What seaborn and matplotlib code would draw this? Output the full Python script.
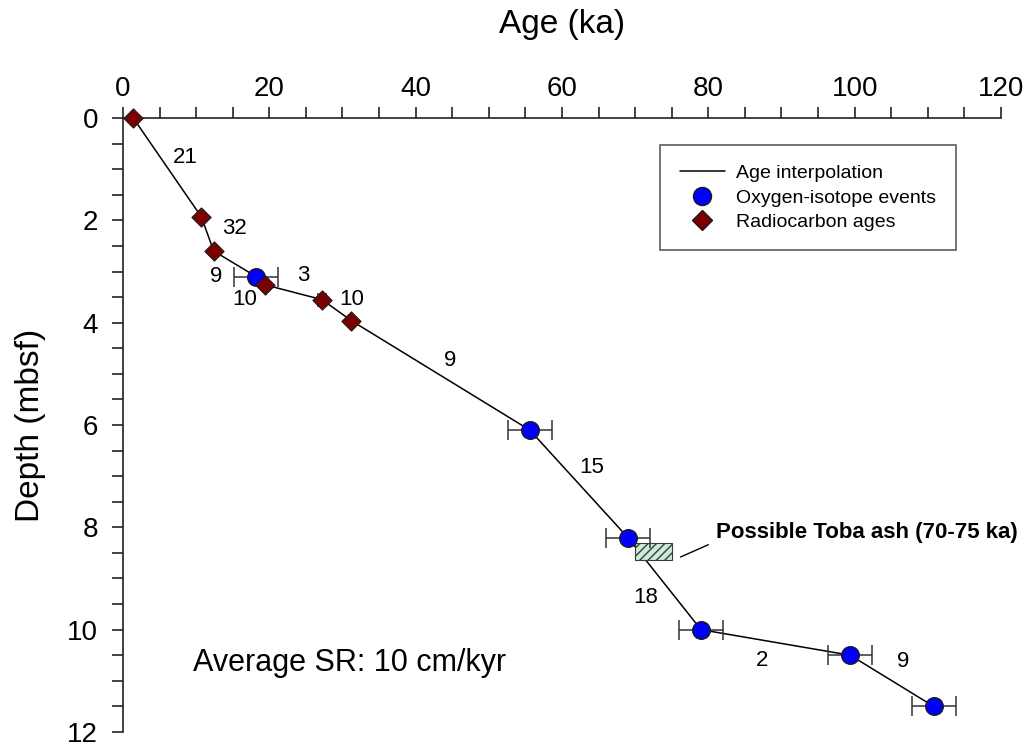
import matplotlib
matplotlib.use("Agg")
import matplotlib.pyplot as plt
from matplotlib.patches import Rectangle
from matplotlib.lines import Line2D
from matplotlib.ticker import MultipleLocator
import seaborn as sns
import pandas as pd

# Age model tie points
radiocarbon_age = [1.4, 10.7, 12.4, 19.4, 27.2, 31.2]
radiocarbon_depth = [0.0, 1.93, 2.6, 3.26, 3.55, 3.96]
radiocarbon_err = [0.3, 0.3, 0.3, 0.3, 0.5, 0.3]

isotope_age = [18.2, 55.6, 69.0, 79.0, 99.4, 110.8]
isotope_depth = [3.1, 6.1, 8.2, 10.0, 10.5, 11.5]
isotope_err = [3.0, 3.0, 3.0, 3.0, 3.0, 3.0]

# Sedimentation-rate labels (cm/kyr) along each segment
sr_labels = ["21", "32", "9", "3", "10", "10", "9", "15", "18", "2", "9"]
sr_age = [8.5, 15.3, 12.7, 24.6, 16.6, 31.3, 44.7, 64.1, 71.4, 87.3, 106.6]
sr_depth = [0.78, 2.15, 3.1, 3.07, 3.55, 3.55, 4.73, 6.84, 9.38, 10.6, 10.62]

toba_age = [70, 75]
toba_depth = [8.3, 8.63]

x_ticks = [0, 20, 40, 60, 80, 100, 120]
y_ticks = [0, 2, 4, 6, 8, 10, 12]

sns.set_style("white")
plt.rcParams["font.family"] = ["Liberation Sans", "DejaVu Sans"]
plt.rcParams["text.color"] = "black"
plt.rcParams["axes.labelcolor"] = "black"
plt.rcParams["xtick.color"] = "black"
plt.rcParams["ytick.color"] = "black"
plt.rcParams["hatch.color"] = "#3c7a5a"

fig = plt.figure(figsize=(10.31, 7.46), dpi=100)
ax = fig.add_axes([0.1193, 0.0188, 0.8516, 0.823])

tie = pd.DataFrame({
    "age": radiocarbon_age + isotope_age,
    "depth": radiocarbon_depth + isotope_depth,
}).sort_values("age")

sns.lineplot(data=tie, x="age", y="depth", sort=False, color="black",
             linewidth=1.1, ax=ax, zorder=2)

# Toba ash interval
ax.add_patch(Rectangle((toba_age[0], toba_depth[0]), toba_age[1] - toba_age[0],
                       toba_depth[1] - toba_depth[0], facecolor="#c8ecd8",
                       edgecolor="#3a3a3a", hatch="////", linewidth=0.8, zorder=2.5))

ax.errorbar(isotope_age, isotope_depth, xerr=isotope_err, fmt="none",
            ecolor="#333333", elinewidth=1.1, capsize=7, capthick=1.1, zorder=3)
ax.errorbar(radiocarbon_age, radiocarbon_depth, xerr=radiocarbon_err, fmt="none",
            ecolor="#333333", elinewidth=1.1, capsize=5, capthick=1.1, zorder=3)

rc = pd.DataFrame({"age": radiocarbon_age, "depth": radiocarbon_depth})
iso = pd.DataFrame({"age": isotope_age, "depth": isotope_depth})
sns.scatterplot(data=iso, x="age", y="depth", marker="o", s=160, color="#0000ff",
                edgecolor="#1a1a1a", linewidth=1.0, ax=ax, zorder=4, clip_on=False)
sns.scatterplot(data=rc, x="age", y="depth", marker="D", s=95, color="#7a0000",
                edgecolor="#1a1a1a", linewidth=0.8, ax=ax, zorder=5, clip_on=False)

for lab, xa, yd in zip(sr_labels, sr_age, sr_depth):
    ax.text(xa, yd, lab, fontsize=16, ha="center", va="center", zorder=6)

ax.plot([76.2, 80.0], [8.58, 8.34], color="black", linewidth=1.0)
ax.text(81.0, 8.1, "Possible Toba ash (70-75 ka)", fontsize=16, fontweight="bold",
        ha="left", va="center")

ax.text(9.6, 10.65, "Average SR: 10 cm/kyr", fontsize=22, ha="left", va="center")

ax.set_xlim(0, 120)
ax.set_ylim(12, 0)
ax.xaxis.tick_top()
ax.xaxis.set_label_position("top")
ax.set_xticks(x_ticks)
ax.set_yticks(y_ticks)
ax.xaxis.set_minor_locator(MultipleLocator(5))
ax.yaxis.set_minor_locator(MultipleLocator(0.5))
ax.tick_params(axis="both", which="both", direction="out", length=8, width=1.2,
               color="#222222", labelsize=20)
ax.tick_params(axis="x", which="both", top=True, bottom=False, pad=3.5)
ax.tick_params(axis="y", which="both", left=True, right=False, pad=10)
ax.set_xlabel("Age (ka)", fontsize=24, labelpad=31)
ax.set_ylabel("Depth (mbsf)", fontsize=24, labelpad=15)

for side in ["right", "bottom"]:
    ax.spines[side].set_visible(False)
for side in ["left", "top"]:
    ax.spines[side].set_color("#222222")
    ax.spines[side].set_linewidth(1.2)

handles = [
    Line2D([], [], color="black", linewidth=1.1),
    Line2D([], [], marker="o", linestyle="none", markersize=13,
           markerfacecolor="#0000ff", markeredgecolor="#1a1a1a"),
    Line2D([], [], marker="D", linestyle="none", markersize=10,
           markerfacecolor="#7a0000", markeredgecolor="#1a1a1a"),
]
leg = ax.legend(handles, ["Age interpolation", "Oxygen-isotope events", "Radiocarbon ages"],
                loc="upper left", bbox_to_anchor=(0.612, 0.956), borderaxespad=0,
                fontsize=14, frameon=True, fancybox=False, borderpad=1.0,
                handlelength=2.3, labelspacing=0.35, handletextpad=0.6)
leg.get_frame().set_edgecolor("#333333")
leg.get_frame().set_linewidth(1.2)

fig.savefig("out.png", dpi=100)
